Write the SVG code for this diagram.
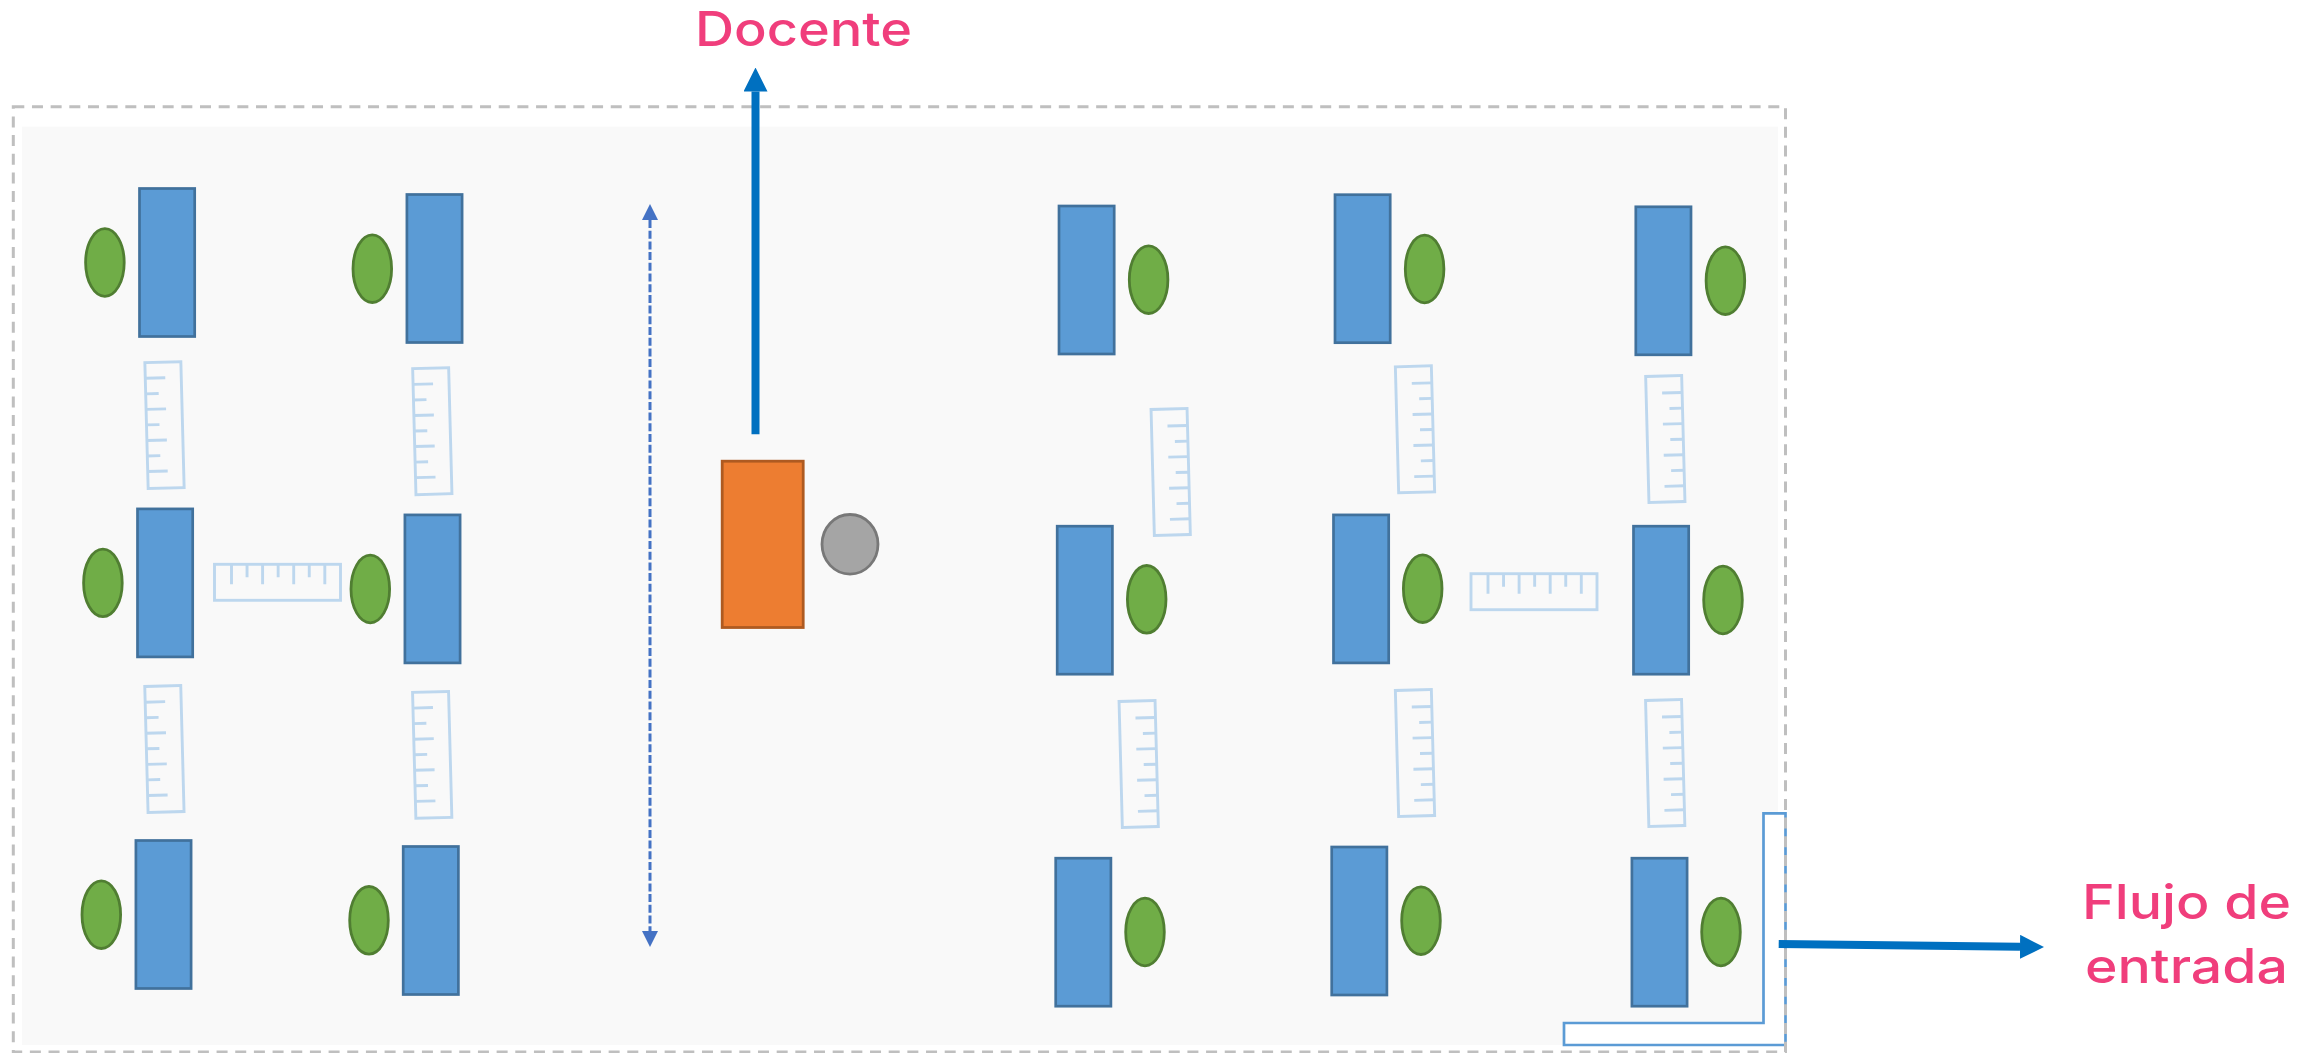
<svg xmlns="http://www.w3.org/2000/svg" xmlns:xlink="http://www.w3.org/1999/xlink" width="2323" height="1053" viewBox="0 0 2323 1053">
  <style>
    .desk { fill: #5b9bd5; stroke: #41719c; stroke-width: 2.7; }
    .student { fill: #70ad47; stroke: #507e32; stroke-width: 2.8; }
    .rul { fill: none; stroke: #bdd7ee; stroke-width: 2.9; }
    .lbl { font-family: "Inter", "Liberation Sans", sans-serif; font-size: 48px; font-weight: 500; fill: #f03e7c; }
    .flow { fill: none; stroke: #0070c0; stroke-width: 8; }
    .aisle { fill: none; stroke: #4472c4; stroke-width: 3; stroke-dasharray: 8 2.7; }
  </style>
  <defs>
    <marker id="headBig" markerUnits="userSpaceOnUse" markerWidth="24" markerHeight="24" refX="0" refY="12" orient="auto">
      <path d="M0,0 L24,12 L0,24 Z" fill="#0070c0"/>
    </marker>
    <marker id="headSmall" markerUnits="userSpaceOnUse" markerWidth="16" markerHeight="16" refX="0" refY="8" orient="auto-start-reverse">
      <path d="M0,0 L16,8 L0,16 Z" fill="#4472c4"/>
    </marker>
    <g id="ruler">
      <rect class="rul" x="-63" y="-18" width="126" height="36"/>
      <path class="rul" d="M-46,-18v20M-30.45,-18v13M-14.9,-18v20M0.65,-18v13M16.2,-18v20M31.75,-18v13M47.3,-18v20"/>
    </g>
  </defs>

  <g id="room">
    <rect x="22" y="126.7" width="1756" height="918.3" fill="#f9f9f9"/>
    <path id="door" d="M1785.5,813.3H1763.5V1023H1564V1045H1785.5Z" fill="#ffffff" stroke="#5b9bd5" stroke-width="2.7"/>
    <rect x="13.3" y="106.7" width="1772.2" height="945.3" fill="none" stroke="#bfbfbf" stroke-width="3" stroke-dasharray="11 7.67"/>
  </g>

  <g id="rulers">
    <use id="ruler-1" xlink:href="#ruler" href="#ruler" transform="translate(164.5,425.1) rotate(-91.5)"/>
    <use id="ruler-2" xlink:href="#ruler" href="#ruler" transform="translate(432.3,431.2) rotate(-91.5)"/>
    <use id="ruler-3" xlink:href="#ruler" href="#ruler" transform="translate(164.4,749) rotate(-91.5)"/>
    <use id="ruler-4" xlink:href="#ruler" href="#ruler" transform="translate(432.2,754.9) rotate(-91.5)"/>
    <use id="ruler-5" xlink:href="#ruler" href="#ruler" transform="translate(277.5,582.3)"/>
    <use id="ruler-6" xlink:href="#ruler" href="#ruler" transform="translate(1170.7,472) rotate(88.5)"/>
    <use id="ruler-7" xlink:href="#ruler" href="#ruler" transform="translate(1138.7,764) rotate(88.5)"/>
    <use id="ruler-8" xlink:href="#ruler" href="#ruler" transform="translate(1415,429.3) rotate(88.5)"/>
    <use id="ruler-9" xlink:href="#ruler" href="#ruler" transform="translate(1415,753) rotate(88.5)"/>
    <use id="ruler-10" xlink:href="#ruler" href="#ruler" transform="translate(1534,591.7)"/>
    <use id="ruler-11" xlink:href="#ruler" href="#ruler" transform="translate(1665.3,439) rotate(88.5)"/>
    <use id="ruler-12" xlink:href="#ruler" href="#ruler" transform="translate(1665.2,763) rotate(88.5)"/>
  </g>

  <g id="seat-1-1"><rect class="desk" x="139.5" y="188.5" width="55.2" height="148"/><ellipse class="student" cx="104.9" cy="262.5" rx="19.3" ry="33.8"/></g>
  <g id="seat-1-2"><rect class="desk" x="137.5" y="508.9" width="55.2" height="148"/><ellipse class="student" cx="102.9" cy="582.9" rx="19.3" ry="33.8"/></g>
  <g id="seat-1-3"><rect class="desk" x="135.9" y="840.5" width="55.2" height="148"/><ellipse class="student" cx="101.3" cy="914.7" rx="19.3" ry="33.8"/></g>
  <g id="seat-2-1"><rect class="desk" x="406.9" y="194.5" width="55.2" height="148"/><ellipse class="student" cx="372.3" cy="268.7" rx="19.3" ry="33.8"/></g>
  <g id="seat-2-2"><rect class="desk" x="404.9" y="514.9" width="55.2" height="148"/><ellipse class="student" cx="370.3" cy="589" rx="19.3" ry="33.8"/></g>
  <g id="seat-2-3"><rect class="desk" x="403.2" y="846.5" width="55.2" height="148"/><ellipse class="student" cx="369" cy="920.3" rx="19.3" ry="33.8"/></g>
  <g id="seat-3-1"><rect class="desk" x="1059" y="206" width="55.2" height="148"/><ellipse class="student" cx="1148.6" cy="279.7" rx="19.3" ry="33.8"/></g>
  <g id="seat-3-2"><rect class="desk" x="1057.2" y="526.2" width="55.2" height="148"/><ellipse class="student" cx="1146.7" cy="599.3" rx="19.3" ry="33.8"/></g>
  <g id="seat-3-3"><rect class="desk" x="1055.7" y="858.2" width="55.2" height="148"/><ellipse class="student" cx="1145" cy="932" rx="19.3" ry="33.8"/></g>
  <g id="seat-4-1"><rect class="desk" x="1335" y="194.7" width="55.2" height="148"/><ellipse class="student" cx="1424.6" cy="269" rx="19.3" ry="33.8"/></g>
  <g id="seat-4-2"><rect class="desk" x="1333.5" y="514.9" width="55.2" height="148"/><ellipse class="student" cx="1422.7" cy="588.7" rx="19.3" ry="33.8"/></g>
  <g id="seat-4-3"><rect class="desk" x="1331.7" y="847" width="55.2" height="148"/><ellipse class="student" cx="1421" cy="920.7" rx="19.3" ry="33.8"/></g>
  <g id="seat-5-1"><rect class="desk" x="1635.8" y="206.8" width="55.2" height="148"/><ellipse class="student" cx="1725.4" cy="280.7" rx="19.3" ry="33.8"/></g>
  <g id="seat-5-2"><rect class="desk" x="1633.5" y="526.2" width="55.2" height="148"/><ellipse class="student" cx="1723" cy="600" rx="19.3" ry="33.8"/></g>
  <g id="seat-5-3"><rect class="desk" x="1631.9" y="858.2" width="55.2" height="148"/><ellipse class="student" cx="1721" cy="932" rx="19.3" ry="33.8"/></g>

  <g id="teacher">
    <rect x="722.2" y="461.2" width="81" height="166.3" fill="#ed7d31" stroke="#ae5a21" stroke-width="2.8"/>
    <ellipse cx="850" cy="544.3" rx="28" ry="29.8" fill="#a5a5a5" stroke="#787878" stroke-width="2.8"/>
  </g>

  <g id="connectors">
    <path class="aisle" d="M650,220V931" marker-start="url(#headSmall)" marker-end="url(#headSmall)"/>
    <path class="flow" d="M755.5,434.3V91.5" marker-end="url(#headBig)"/>
    <path class="flow" d="M1778.7,944L2020,946.8" marker-end="url(#headBig)"/>
  </g>

  <g id="label-docente"><text class="lbl" x="695" y="46" textLength="217" lengthAdjust="spacingAndGlyphs">Docente</text></g>
  <g id="label-flujo">
    <text class="lbl" x="2082" y="919.3" textLength="209" lengthAdjust="spacingAndGlyphs">Flujo de</text>
    <text class="lbl" x="2085" y="983.3" textLength="203" lengthAdjust="spacingAndGlyphs">entrada</text>
  </g>
</svg>
